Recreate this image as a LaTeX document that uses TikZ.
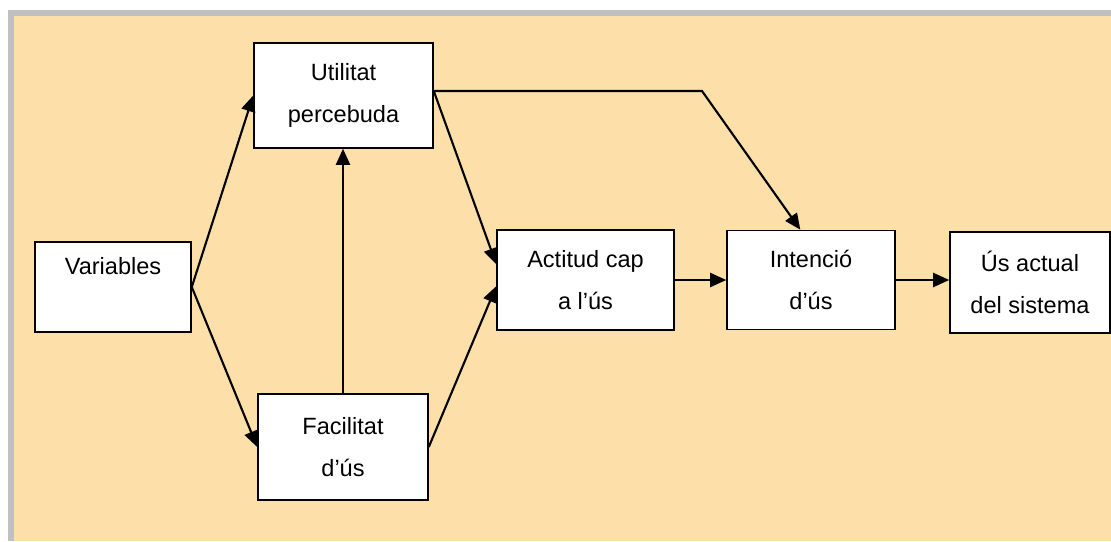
\documentclass[tikz,border=0pt]{standalone}
\usepackage{fontspec}
\setmainfont{Liberation Sans}
\usetikzlibrary{arrows.meta}
\definecolor{fond}{RGB}{252,223,169}
\definecolor{cadre}{RGB}{192,192,192}

\begin{document}
\begin{tikzpicture}[x=0.02cm,y=-0.02cm,
    boite/.style={draw,fill=white,line width=0.9pt,align=center,inner sep=0pt,
      font=\fontsize{13.4}{23.9}\selectfont},
    fleche/.style={line width=1.2pt,-{Triangle[length=0.32cm,width=0.28cm]}}]
    % Fond et cadre
    \useasboundingbox (0,0) rectangle (1111,541);
    \fill[cadre] (8,10) rectangle (1111,541);
    \fill[fond] (14,16) rectangle (1111,541);
    % Boites
    \node[boite,minimum width=3.12cm,minimum height=1.8cm] (var) at (113,287) {Variables\\\mbox{}};
    \node[boite,minimum width=3.58cm,minimum height=2.1cm] (util) at (343.5,95.5) {Utilitat\\percebuda};
    \node[boite,minimum width=3.4cm,minimum height=2.12cm] (facil) at (343,447) {Facilitat\\d’ús};
    \node[boite,minimum width=3.54cm,minimum height=2cm] (act) at (585.5,280) {Actitud cap\\a l’ús};
    \node[boite,minimum width=3.36cm,minimum height=1.98cm] (int) at (811,280) {Intenció\\d’ús};
    \node[boite,minimum width=3.2cm,minimum height=2.02cm] (us) at (1030,282.5) {Ús actual\\del sistema};
    % Fleches
    \coordinate (coude) at (702,91);
    \draw[fleche] (var.east) -- (util.west);
    \draw[fleche] (var.east) -- (facil.west);
    \draw[fleche] (facil.north) -- (facil.north |- util.south);
    \draw[fleche] (util.east |- coude) -- (act.170);
    \draw[fleche] (facil.east) -- (act.184);
    \draw[fleche] (util.east |- coude) -- (coude) -- (int.102);
    \draw[fleche] (act.east) -- (act.east -| int.west);
    \draw[fleche] (int.east) -- (int.east -| us.west);
\end{tikzpicture}
\end{document}
